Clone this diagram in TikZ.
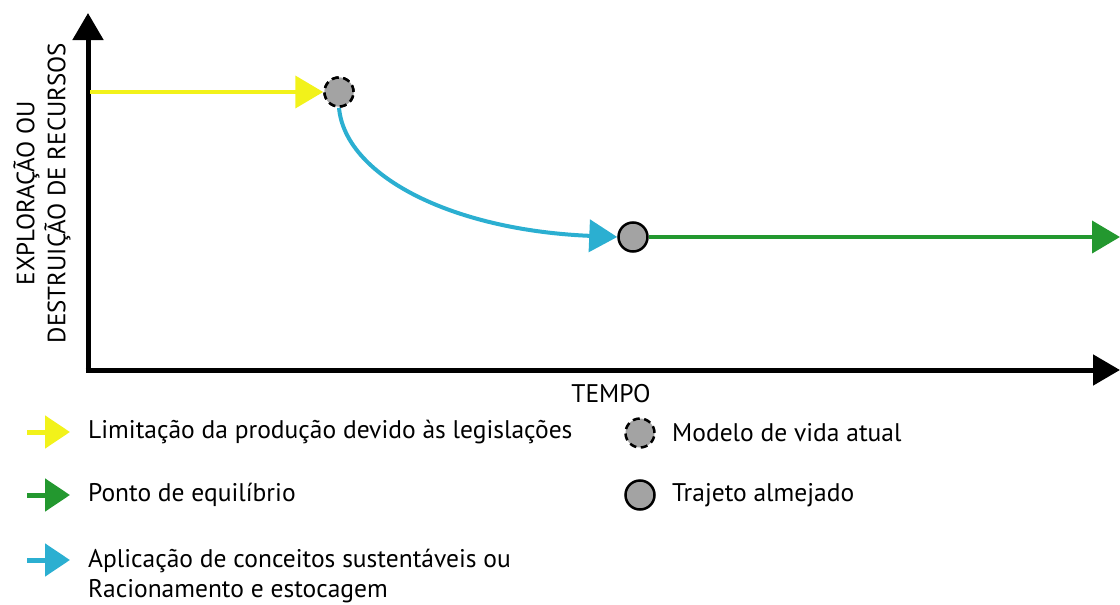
\documentclass[tikz,border=0pt]{standalone}
\usepackage{fontspec}
\setmainfont{PT Sans}
\usetikzlibrary{arrows.meta}
\definecolor{yel}{HTML}{F2F21A}
\definecolor{grn}{HTML}{23982F}
\definecolor{blu}{HTML}{2BAFD1}
\definecolor{gry}{HTML}{A3A3A3}
\begin{document}
\begin{tikzpicture}[x=1pt,y=-1pt,
  axis/.style={line width=5pt, -{Triangle[length=27pt,width=30pt]}},
  flow/.style={line width=4pt, -{Triangle[length=28pt,width=32pt]}},
  leg/.style={line width=5pt, -{Triangle[length=25pt,width=32pt]}},
  curdot/.style={circle, draw=black, fill=gry, line width=2.5pt, dash pattern=on 7pt off 4.5pt, minimum size=29pt, inner sep=0pt},
  goaldot/.style={circle, draw=black, fill=gry, line width=2.5pt, minimum size=29pt, inner sep=0pt},
  lbl/.style={font=\fontsize{25.5}{30}\selectfont, inner sep=0pt, anchor=west}]
\useasboundingbox (0,0) rectangle (1120,605);
% axes
\coordinate (o) at (88,370);
\coordinate (ytop) at (88,13);
\coordinate (xend) at (1120,370);
\draw[line width=5pt] (88,372.5) -- (88,370);
\draw[axis] (88,372.5) -- (ytop);
\draw[axis] (85.5,370) -- (xend);
% points
\node[curdot] (cur) at (339,92) {};
\node[goaldot] (goal) at (633,237) {};
\coordinate (ystart) at (90,92);
\coordinate (gend) at (1120,237);
\draw[flow, yel] (ystart) -- (cur.west);
\draw[flow, blu] (cur.south) .. controls (345,175) and (450,230) .. (goal.west);
\draw[flow, grn] (goal.east) -- (gend);
\node[curdot] at (cur) {};
% labels
\node[font=\fontsize{25.5}{30}\selectfont, inner sep=0pt] (tempo) at (611,394) {TEMPO};
\node[font=\fontsize{25}{31}\selectfont, rotate=90, align=center, inner sep=0pt] (ylab) at (42,193) {EXPLORAÇÃO OU\\DESTRUIÇÃO DE RECURSOS};
% legend
\coordinate (l1a) at (27,432); \coordinate (l1b) at (70,432);
\coordinate (l2a) at (27,495); \coordinate (l2b) at (70,495);
\coordinate (l3a) at (27,560); \coordinate (l3b) at (70,560);
\draw[leg, yel] (l1a) -- (l1b);
\draw[leg, grn] (l2a) -- (l2b);
\draw[leg, blu] (l3a) -- (l3b);
\node[lbl] (t1) at (88,432) {Limitação da produção devido às legislações};
\node[lbl] (t2) at (88,495) {Ponto de equilíbrio};
\node[lbl, align=left] (t3) at (88,576) {Aplicação de conceitos sustentáveis ou\\Racionamento e estocagem};
\node[curdot] (lc1) at (640,433) {};
\node[goaldot] (lc2) at (640,495) {};
\node[lbl] (t4) at (672,433) {Modelo de vida atual};
\node[lbl] (t5) at (672,495) {Trajeto almejado};
\end{tikzpicture}
\end{document}
